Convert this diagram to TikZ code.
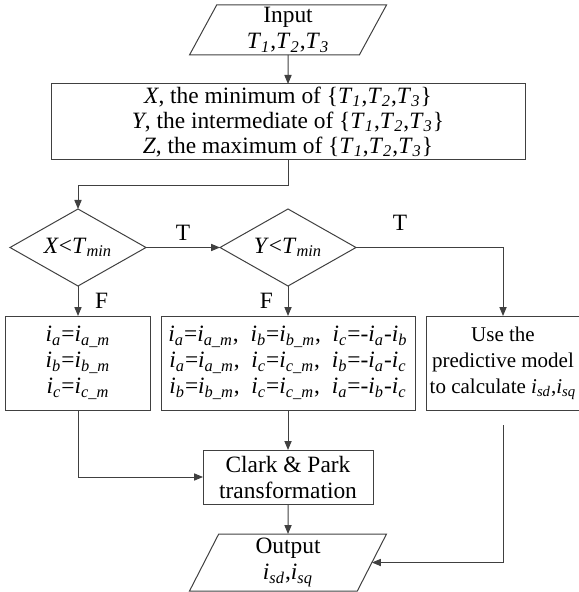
\documentclass[tikz,border=0pt]{standalone}
\usepackage{fontspec}
\setmainfont{Liberation Serif}
\usepackage{tikz}
\usetikzlibrary{arrows.meta,positioning,shapes.geometric}
\definecolor{flowline}{HTML}{404040}
\newcommand{\isub}[2]{\textit{#1}\textsubscript{\textit{#2}}}

\begin{document}
\begin{tikzpicture}[
  font=\fontsize{11.7}{13}\selectfont,
  node distance=15pt,
  block/.style={draw=flowline, line width=0.5pt, align=center, outer sep=0pt,
                inner xsep=1.5pt, inner ysep=0pt},
  decision/.style={diamond, draw=flowline, line width=0.5pt, aspect=1.77, outer sep=0pt,
                   inner sep=0pt, minimum width=68pt, minimum height=38.5pt},
  io/.style={trapezium, trapezium left angle=60, trapezium right angle=120,
             trapezium stretches body, draw=flowline, line width=0.5pt, outer sep=0pt,
             align=center, inner sep=0.5pt, minimum width=98.5pt},
  arrow/.style={-{Triangle[length=4.5pt,width=3.6pt]}, draw=flowline, line width=0.5pt}
]
  \useasboundingbox (-144pt,15pt) rectangle (145pt,-281pt);
  \node[io, minimum height=25pt] (input) at (0,0) {Input\\\isub{T}{1},\isub{T}{2},\isub{T}{3}};
  \node[block, below=14.5pt of input, minimum width=237pt, minimum height=38pt,
        font=\fontsize{11.7}{12.5}\selectfont] (minmax)
    {\textit{X}, the minimum of \{\isub{T}{1},\isub{T}{2},\isub{T}{3}\}\\
     \textit{Y}, the intermediate of \{\isub{T}{1},\isub{T}{2},\isub{T}{3}\}\\
     \textit{Z}, the maximum of \{\isub{T}{1},\isub{T}{2},\isub{T}{3}\}};
  \node[decision, below=24.5pt of minmax] (ycheck) {\textit{Y}<\isub{T}{min}};
  \node[decision, left=37pt of ycheck] (xcheck) {\textit{X}<\isub{T}{min}};
  \node[block, below=15pt of ycheck, minimum width=127pt, minimum height=47pt] (mixed)
    {\isub{i}{a}=\isub{i}{a\_m},\ \ \isub{i}{b}=\isub{i}{b\_m},\ \ \isub{i}{c}=-\isub{i}{a}-\isub{i}{b}\\
     \isub{i}{a}=\isub{i}{a\_m},\ \ \isub{i}{c}=\isub{i}{c\_m},\ \ \isub{i}{b}=-\isub{i}{a}-\isub{i}{c}\\
     \isub{i}{b}=\isub{i}{b\_m},\ \ \isub{i}{c}=\isub{i}{c\_m},\ \ \isub{i}{a}=-\isub{i}{b}-\isub{i}{c}};
  \node[block, below=15pt of xcheck, minimum width=72.5pt, minimum height=47pt] (direct)
    {\isub{i}{a}=\isub{i}{a\_m}\\\isub{i}{b}=\isub{i}{b\_m}\\\isub{i}{c}=\isub{i}{c\_m}};
  \node[block, right=5.5pt of mixed, minimum width=77pt, minimum height=47pt,
        font=\fontsize{10.5}{13}\selectfont] (predict)
    {Use the\\predictive model\\to calculate \isub{i}{sd},\isub{i}{sq}};
  \node[block, below=20pt of mixed, minimum width=85pt, minimum height=27pt] (clark)
    {Clark \& Park\\transformation};
  \node[io, below=15pt of clark, minimum height=28.5pt] (output) {Output\\\isub{i}{sd},\isub{i}{sq}};
  \draw[arrow] (input) -- (minmax);
  \draw[arrow] (minmax.south) -- ++(0,-13pt) -| (xcheck.north);
  \draw[arrow] (xcheck) -- node[above]{T} (ycheck);
  \draw[arrow] (ycheck.east) -| node[pos=0.15, above=5pt]{T} (predict.north);
  \draw[arrow] (xcheck) -- node[right=5pt]{F} (direct);
  \draw[arrow] (ycheck) -- node[left=4pt]{F} (mixed);
  \draw[arrow] (direct.south) |- (clark.west);
  \draw[arrow] (mixed) -- (clark);
  \draw[arrow] (clark) -- (output);
  \draw[arrow, shorten <=7.5pt] (predict.south) |- (output);
\end{tikzpicture}
\end{document}
